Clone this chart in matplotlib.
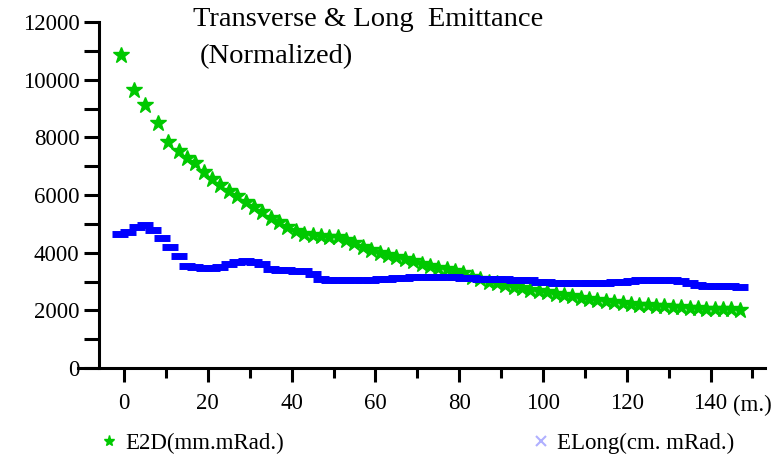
import numpy as np
import matplotlib.pyplot as plt
from matplotlib.lines import Line2D

# emittance along the linac, z in metres
z_2d = [-0.7, 2.4, 5.0, 8.0, 10.5, 13, 15, 17, 19, 21, 23, 25, 27, 29, 31, 33, 35, 37, 39,
        41, 43, 45, 47, 49, 51, 53, 55, 57, 59, 61, 63, 65, 67, 69, 71, 73, 75, 77, 79,
        81, 83, 85, 87, 89, 91, 93, 95, 97, 99, 101, 103, 105, 107, 109, 111, 113, 115,
        117, 119, 121, 123, 125, 127, 129, 131, 133, 135, 137, 139, 141, 143, 145, 147]
e2d = [10850, 9630, 9110, 8480, 7850, 7540, 7300, 7100, 6800, 6550, 6350, 6150, 5950,
       5750, 5600, 5400, 5200, 5050, 4900, 4750, 4650, 4600, 4580, 4560, 4540, 4450,
       4350, 4200, 4100, 4000, 3920, 3850, 3780, 3700, 3620, 3550, 3480, 3420, 3350,
       3300, 3150, 3080, 3000, 2950, 2880, 2820, 2770, 2720, 2680, 2620, 2570, 2520,
       2480, 2440, 2400, 2360, 2330, 2300, 2260, 2230, 2200, 2180, 2160, 2140, 2120,
       2100, 2080, 2070, 2060, 2050, 2040, 2030, 2020]

z_long = [-1, 1, 3, 5, 7, 9, 11, 13, 15, 17, 19, 21, 23, 25, 27, 29, 31, 33, 35, 37, 39,
          41, 43, 45, 47, 49, 51, 53, 55, 57, 59, 61, 63, 65, 67, 69, 71, 73, 75, 77, 79,
          81, 83, 85, 87, 89, 91, 93, 95, 97, 99, 101, 103, 105, 107, 109, 111, 113, 115,
          117, 119, 121, 123, 125, 127, 129, 131, 133, 135, 137, 139, 141, 143, 145, 147]
elong = [4650, 4700, 4900, 4950, 4800, 4500, 4200, 3900, 3550, 3490, 3480, 3470, 3500,
         3600, 3660, 3700, 3660, 3600, 3420, 3400, 3390, 3380, 3350, 3250, 3100, 3050,
         3040, 3040, 3040, 3050, 3060, 3080, 3100, 3120, 3130, 3140, 3150, 3150, 3160,
         3160, 3150, 3130, 3110, 3100, 3090, 3080, 3070, 3060, 3050, 3040, 3000, 2980,
         2960, 2950, 2950, 2940, 2940, 2950, 2960, 2980, 3000, 3030, 3050, 3060, 3060,
         3050, 3040, 3020, 2950, 2880, 2860, 2840, 2830, 2830, 2820]

green = '#00c800'
blue = '#0000ff'
serif = 'Liberation Serif'
fs = 16.5

fig = plt.figure(figsize=(7.78, 4.61), dpi=100)
ax = fig.add_axes([78 / 778, 93 / 461, (765 - 78) / 778, (368 - 22) / 461])

ax.plot(z_2d, e2d, ls='none', marker='*', ms=12, color=green, mec=green)
ax.plot(z_long, elong, ls='none', marker='_', ms=12, mew=5, color=blue)

ax.set_xlim(-11, 153)
ax.set_ylim(0, 12000)

for s in ['top', 'right']:
    ax.spines[s].set_visible(False)
ax.spines['left'].set_position(('data', -6))
ax.spines['left'].set_linewidth(2.2)
ax.spines['bottom'].set_linewidth(2.2)

ax.set_yticks(np.arange(0, 12001, 2000))
ax.set_yticks(np.arange(1000, 12000, 2000), minor=True)
ax.set_xticks(np.arange(0, 141, 20))
ax.set_xticks(np.arange(10, 151, 20), minor=True)
ax.tick_params(axis='y', which='both', length=11, width=2.2, pad=3)
ax.tick_params(axis='x', which='major', length=10, width=2.2, pad=8)
ax.tick_params(axis='x', which='minor', length=7, width=2.2)
ax.set_yticklabels([str(v) for v in range(0, 12001, 2000)], family=serif, fontsize=fs)
ax.set_xticklabels([str(v) for v in range(0, 141, 20)], family=serif, fontsize=fs)

fig.text(733 / 778, 1 - 405 / 461, '(m.)', family=serif, fontsize=fs, va='center')

fig.text(193 / 778, 1 - 19 / 461, 'Transverse & Long  Emittance', family=serif,
         fontsize=20.5, va='center')
fig.text(200 / 778, 1 - 57 / 461, '(Normalized)', family=serif, fontsize=20.5, va='center')

h1 = Line2D([], [], ls='none', marker='*', ms=8, color=green, label='E2D(mm.mRad.)')
h2 = Line2D([], [], ls='none', marker='x', ms=7, mew=1.5, color='#b0b0ff',
            label='ELong(cm. mRad.)')
fig.legend(handles=[h1], loc='center left', bbox_to_anchor=(77 / 778, 1 - 443 / 461),
           frameon=False, handlelength=1, handletextpad=0.2,
           prop={'family': serif, 'size': fs})
fig.legend(handles=[h2], loc='center left', bbox_to_anchor=(509 / 778, 1 - 443 / 461),
           frameon=False, handlelength=1, handletextpad=0.2,
           prop={'family': serif, 'size': fs})

fig.savefig('out.png', dpi=100)
